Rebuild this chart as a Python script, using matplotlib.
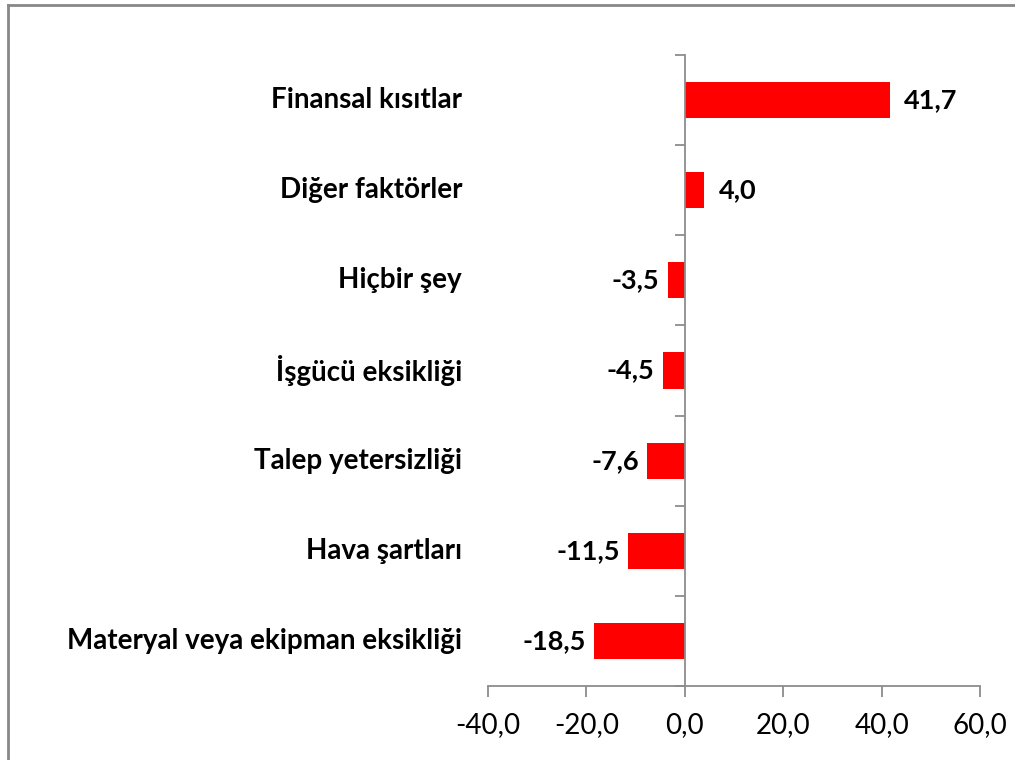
import matplotlib
matplotlib.use("Agg")
import matplotlib.pyplot as plt
from matplotlib.lines import Line2D

plt.rcParams['font.family'] = ['Lato', 'DejaVu Sans']

categories = ["Materyal veya ekipman eksikliği", "Hava şartları", "Talep yetersizliği",
              "İşgücü eksikliği", "Hiçbir şey", "Diğer faktörler", "Finansal kısıtlar"]
values = [-18.5, -11.5, -7.6, -4.5, -3.5, 4.0, 41.7]
xticks = [-40, -20, 0, 20, 40, 60]

fig = plt.figure(figsize=(10.15, 7.6), dpi=100)
ax = fig.add_axes([488 / 1015, 1 - 686 / 760, (980 - 488) / 1015, (686 - 55) / 760])

pos = list(range(len(categories)))
ax.barh(pos, values, height=0.4, color="#FF0000", zorder=2)

ax.set_xlim(-40, 60)
ax.set_ylim(-0.5, len(categories) - 0.5)

# value labels
for y, v in zip(pos, values):
    txt = ("%.1f" % v).replace(".", ",")
    off = 14 if v >= 0 else -8
    ax.annotate(txt, (v, y), xytext=(off, 0), textcoords="offset pixels",
                ha="left" if v >= 0 else "right", va="center",
                fontsize=19.5, fontweight="bold", color="black")

# category labels to the left of the plot area
for y, c in zip(pos, categories):
    ax.annotate(c, (0, y), xycoords=("axes fraction", "data"), xytext=(-26, 0),
                textcoords="offset pixels", ha="right", va="center",
                fontsize=20, fontweight="bold", color="black")

grey = "#8c8c8c"
for s in ["top", "right"]:
    ax.spines[s].set_visible(False)
ax.spines["left"].set_position(("data", 0))
ax.spines["left"].set_color(grey)
ax.spines["bottom"].set_color(grey)
ax.spines["left"].set_linewidth(1.3)
ax.spines["bottom"].set_linewidth(1.3)

ax.set_xticks(xticks)
ax.set_xticklabels([("%.1f" % t).replace(".", ",") for t in xticks], fontsize=20)
ax.tick_params(axis="x", direction="out", length=8, width=1.3, color=grey, pad=11)

ax.set_yticks([p - 0.5 for p in pos] + [len(pos) - 0.5])
ax.set_yticklabels([])
ax.tick_params(axis="y", direction="out", length=7, width=1.3, color=grey)

# outer chart frame
fig.add_artist(Line2D([8 / 1015, 8 / 1015], [0, 1 - 5 / 760], transform=fig.transFigure,
                      color="#888888", linewidth=2))
fig.add_artist(Line2D([8 / 1015, 1], [1 - 5 / 760, 1 - 5 / 760], transform=fig.transFigure,
                      color="#888888", linewidth=2))

fig.savefig("out.png", dpi=100)
